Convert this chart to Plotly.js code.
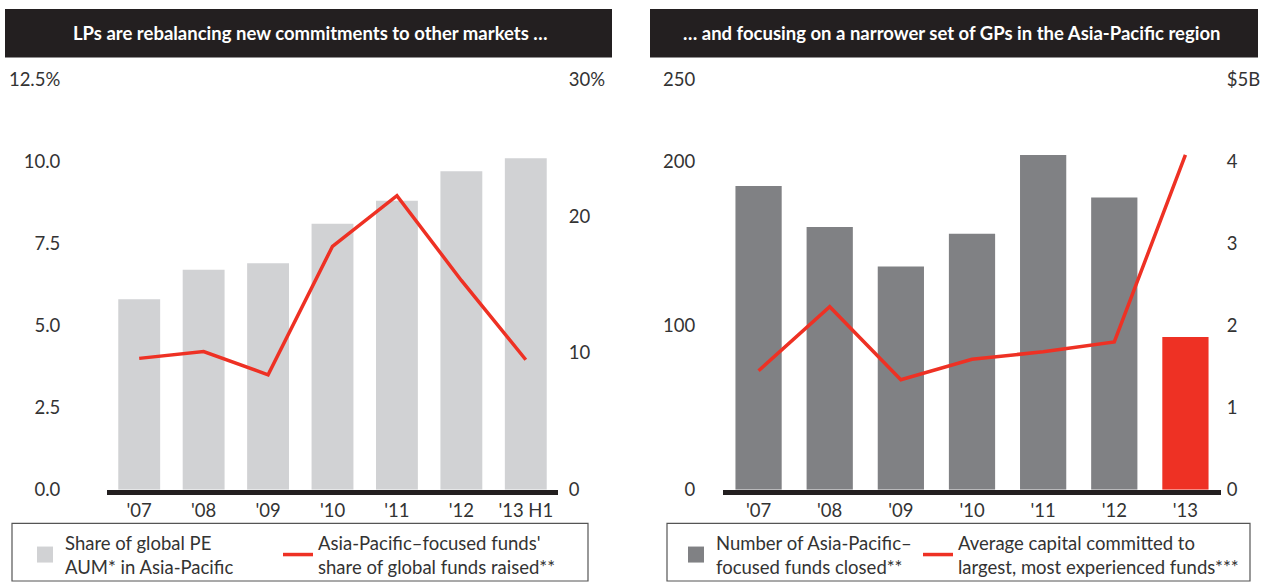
<!DOCTYPE html>
<html><head><meta charset="utf-8">
<script src="https://cdn.plot.ly/plotly-3.0.1.min.js"></script>
<style>html,body{margin:0;padding:0;background:#fff}#chart{width:1261px;height:586px}</style>
</head><body><div id="chart"></div>
<script>
// ---- data ----
const yearsLeft = ["'07","'08","'09","'10","'11","'12","'13 H1"];
const aumShareAsiaPac = [5.8, 6.7, 6.9, 8.1, 8.8, 9.7, 10.1];          // % (left axis)
const fundsRaisedShare = [9.6, 10.1, 8.4, 17.8, 21.5, 15.3, 9.5];      // % (right axis)
const yearsRight = ["'07","'08","'09","'10","'11","'12","'13"];
const fundsClosed = [185, 160, 136, 156, 204, 178, 93];                // count (left axis)
const avgCapitalLargest = [1.45, 2.23, 1.34, 1.59, 1.68, 1.80, 4.08];  // $B (right axis)

const leftTickVals = [0, 2.5, 5, 7.5, 10, 12.5];
const leftTickText = ["0.0", "2.5", "5.0", "7.5", "10.0", "12.5%"];
const left2TickVals = [0, 10, 20, 30];
const left2TickText = ["0", "10", "20", "30%"];
const rightTickVals = [0, 100, 200, 250];
const rightTickText = ["0", "100", "200", "250"];
const right2TickVals = [0, 1, 2, 3, 4, 5];
const right2TickText = ["0", "1", "2", "3", "4", "$5B"];

const titleLeft = "LPs are rebalancing new commitments to other markets …";
const titleRight = "… and focusing on a narrower set of GPs in the Asia-Pacific region";
const legLeftBar = "Share of global PE<br>AUM* in Asia-Pacific";
const legLeftLine = "Asia-Pacific–focused funds'<br>share of global funds raised**";
const legRightBar = "Number of Asia-Pacific–<br>focused funds closed**";
const legRightLine = "Average capital committed to<br>largest, most experienced funds***";

// ---- style ----
const W = 1261, H = 586;
const FONT = "Lato, 'Open Sans', sans-serif";
const TXT = "#333333";
const RED = "#ee3124";
const LIGHT = "#d1d2d4";
const DARK = "#808184";
const px = v => v / W;
const py = v => 1 - v / H;

const plotTop = 80, plotBot = 493;
const yDom = [py(plotBot), py(plotTop)];

const rightBarColors = fundsClosed.map((v, i) => i === fundsClosed.length - 1 ? RED : DARK);

const traces = [
  {type: 'scatter', x: [null], y: [null], mode: 'markers', xaxis: 'x', yaxis: 'y',
   marker: {symbol: 'square', size: 16, color: LIGHT}, name: legLeftBar, legend: 'legend', hoverinfo: 'skip'},
  {type: 'bar', x: yearsLeft, y: aumShareAsiaPac, xaxis: 'x', yaxis: 'y',
   marker: {color: LIGHT}, showlegend: false, name: 'AUM share'},
  {type: 'scatter', mode: 'lines', x: yearsLeft, y: fundsRaisedShare, xaxis: 'x', yaxis: 'y2',
   line: {color: RED, width: 3.5}, name: legLeftLine, legend: 'legend2'},
  {type: 'scatter', x: [null], y: [null], mode: 'markers', xaxis: 'x2', yaxis: 'y3',
   marker: {symbol: 'square', size: 16, color: DARK}, name: legRightBar, legend: 'legend3', hoverinfo: 'skip'},
  {type: 'bar', x: yearsRight, y: fundsClosed, xaxis: 'x2', yaxis: 'y3',
   marker: {color: rightBarColors}, showlegend: false, name: 'Funds closed'},
  {type: 'scatter', mode: 'lines', x: yearsRight, y: avgCapitalLargest, xaxis: 'x2', yaxis: 'y4',
   line: {color: RED, width: 3.5}, name: legRightLine, legend: 'legend4'}
];

const tickFont = {family: FONT, size: 18.5, color: TXT};
const baseY = {showgrid: false, zeroline: false, showline: false, fixedrange: true, tickfont: tickFont,
               ticks: 'outside', tickcolor: 'rgba(0,0,0,0)', tickmode: 'array'};
const baseX = {type: 'category', range: [-0.5, 6.5], showgrid: false, zeroline: false, showline: true,
               linewidth: 5, linecolor: '#231f20', ticks: '', tickfont: tickFont, fixedrange: true};

const legFont = {family: FONT, size: 18.5, color: TXT};
const mkLegend = xPix => ({orientation: 'v', x: px(xPix), y: py(528), xanchor: 'left', yanchor: 'top',
  bgcolor: 'rgba(0,0,0,0)', borderwidth: 0, font: legFont, itemclick: false, itemdoubleclick: false});

const layout = {
  width: W, height: H,
  margin: {l: 0, r: 0, t: 0, b: 0},
  paper_bgcolor: '#fff', plot_bgcolor: 'rgba(0,0,0,0)',
  bargap: 0.35,
  font: {family: FONT, color: TXT},
  xaxis: Object.assign({}, baseX, {domain: [px(107), px(558)], anchor: 'y'}),
  yaxis: Object.assign({}, baseY, {domain: yDom, anchor: 'x', range: [0, 12.5], tickvals: leftTickVals, ticktext: leftTickText, ticklen: 42}),
  yaxis2: Object.assign({}, baseY, {overlaying: 'y', side: 'right', anchor: 'x', range: [0, 30], tickvals: left2TickVals, ticktext: left2TickText, ticklen: 6}),
  xaxis2: Object.assign({}, baseX, {domain: [px(723), px(1221)], anchor: 'y3'}),
  yaxis3: Object.assign({}, baseY, {domain: yDom, anchor: 'x2', range: [0, 250], tickvals: rightTickVals, ticktext: rightTickText, ticklen: 23}),
  yaxis4: Object.assign({}, baseY, {overlaying: 'y3', side: 'right', anchor: 'x2', range: [0, 5], tickvals: right2TickVals, ticktext: right2TickText, ticklen: 1}),
  legend: mkLegend(25),
  legend2: mkLegend(278),
  legend3: mkLegend(676),
  legend4: mkLegend(918),
  shapes: [
    {type: 'rect', xref: 'paper', yref: 'paper', x0: px(5), x1: px(612), y0: py(58), y1: py(9), fillcolor: '#231f20', line: {width: 0}, layer: 'below'},
    {type: 'rect', xref: 'paper', yref: 'paper', x0: px(650), x1: px(1258), y0: py(58), y1: py(9), fillcolor: '#231f20', line: {width: 0}, layer: 'below'},
    {type: 'rect', xref: 'paper', yref: 'paper', x0: px(12), x1: px(588), y0: py(585), y1: py(527), fillcolor: 'rgba(0,0,0,0)', line: {width: 1.2, color: '#555'}},
    {type: 'rect', xref: 'paper', yref: 'paper', x0: px(667), x1: px(1250), y0: py(585), y1: py(527), fillcolor: 'rgba(0,0,0,0)', line: {width: 1.2, color: '#555'}}
  ],
  annotations: [
    {xref: 'paper', yref: 'paper', x: px(310), y: py(33), text: '<b>' + titleLeft + '</b>', showarrow: false,
     xanchor: 'center', yanchor: 'middle', font: {family: FONT, size: 18.5, color: '#fff'}},
    {xref: 'paper', yref: 'paper', x: px(951), y: py(33), text: '<b>' + titleRight + '</b>', showarrow: false,
     xanchor: 'center', yanchor: 'middle', font: {family: FONT, size: 18.5, color: '#fff'}}
  ]
};

Plotly.newPlot('chart', traces, layout, {displayModeBar: false, staticPlot: true});
</script>
</body></html>
